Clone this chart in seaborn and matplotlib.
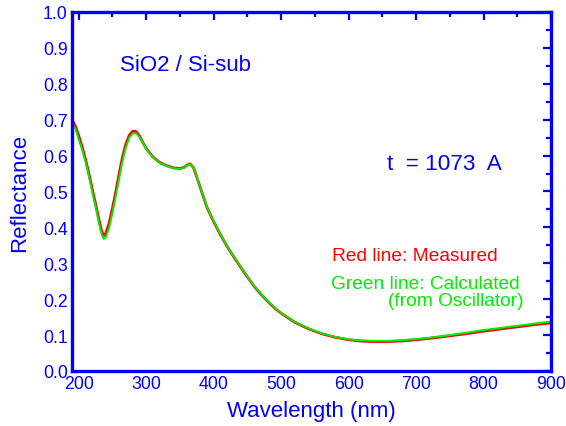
import matplotlib
matplotlib.use("Agg")
import matplotlib.pyplot as plt
from matplotlib.ticker import MultipleLocator
import numpy as np
import pandas as pd
import seaborn as sns

wavelength = [190, 195, 200, 205, 210, 215, 220, 225, 230, 234, 237, 240, 245, 250,
              255, 260, 265, 270, 275, 280, 285, 290, 295, 300, 310, 320, 330, 340,
              350, 356, 361, 365, 370, 375, 380, 390, 400, 410, 420, 430, 440, 450,
              460, 470, 480, 490, 500, 520, 540, 560, 580, 600, 620, 640, 660, 680,
              700, 725, 750, 775, 800, 825, 850, 875, 900]

measured = [0.700, 0.682, 0.655, 0.625, 0.590, 0.550, 0.507, 0.465, 0.421, 0.389,
            0.377, 0.383, 0.412, 0.454, 0.500, 0.551, 0.597, 0.633, 0.657, 0.668,
            0.667, 0.655, 0.637, 0.620, 0.596, 0.581, 0.572, 0.566, 0.564, 0.567,
            0.574, 0.577, 0.567, 0.540, 0.512, 0.456, 0.416, 0.380, 0.347, 0.317,
            0.289, 0.262, 0.236, 0.214, 0.194, 0.176, 0.161, 0.136, 0.118, 0.104,
            0.094, 0.087, 0.083, 0.082, 0.082, 0.084, 0.087, 0.092, 0.098, 0.104,
            0.111, 0.117, 0.123, 0.129, 0.134]

calculated = [0.688, 0.675, 0.645, 0.617, 0.583, 0.544, 0.500, 0.457, 0.412, 0.380,
              0.368, 0.372, 0.399, 0.440, 0.488, 0.538, 0.586, 0.624, 0.650, 0.662,
              0.662, 0.652, 0.636, 0.619, 0.595, 0.580, 0.571, 0.565, 0.563, 0.566,
              0.573, 0.576, 0.567, 0.541, 0.513, 0.457, 0.417, 0.381, 0.348, 0.318,
              0.290, 0.263, 0.237, 0.215, 0.195, 0.177, 0.162, 0.137, 0.119, 0.105,
              0.095, 0.088, 0.085, 0.084, 0.084, 0.086, 0.089, 0.094, 0.100, 0.107,
              0.114, 0.120, 0.126, 0.132, 0.138]

df = pd.DataFrame({"Wavelength": wavelength, "Measured": measured, "Calculated": calculated})

sns.set_theme(style="white")
plt.rcParams['font.family'] = ['Liberation Sans', 'DejaVu Sans']

BLUE = "#0000ff"
RED = "#ff0000"
GREEN = "#00ee00"

fig = plt.figure(figsize=(5.66, 4.27), dpi=100)
ax = fig.add_axes([72/566, 1-372/427, (551-72)/566, (372-13)/427])

sns.lineplot(data=df, x="Wavelength", y="Measured", ax=ax, color=RED, lw=2.0)
sns.lineplot(data=df, x="Wavelength", y="Calculated", ax=ax, color=GREEN, lw=1.4)

ax.set_xlim(190, 900)
ax.set_ylim(0.0, 1.0)
ax.xaxis.set_major_locator(MultipleLocator(100))
ax.xaxis.set_minor_locator(MultipleLocator(50))
ax.yaxis.set_major_locator(MultipleLocator(0.1))
ax.yaxis.set_minor_locator(MultipleLocator(0.05))
ax.yaxis.set_major_formatter(matplotlib.ticker.FormatStrFormatter('%.1f'))

for s in ax.spines.values():
    s.set_color(BLUE)
    s.set_linewidth(2.4)

ax.tick_params(which='both', direction='in', top=True, right=True, color=BLUE,
               labelcolor=BLUE, width=1.6, labelsize=12.8, pad=3)
ax.tick_params(which='major', length=6)
ax.tick_params(which='minor', length=3.5)
ax.tick_params(axis='x', which='both', top=True, labeltop=False)

ax.set_xlabel("Wavelength (nm)", color=BLUE, fontsize=16, labelpad=6)
ax.set_ylabel("Reflectance", color=BLUE, fontsize=16, labelpad=9)

ax.text(0.100, 0.855, "SiO2 / Si-sub", transform=ax.transAxes, color=BLUE,
        fontsize=16, ha='left', va='center')
ax.text(0.658, 0.577, "t  = 1073  A", transform=ax.transAxes, color=BLUE,
        fontsize=16.2, ha='left', va='center')
ax.text(0.543, 0.323, "Red line: Measured", transform=ax.transAxes, color=RED,
        fontsize=13.8, ha='left', va='center')
ax.text(0.541, 0.245, "Green line: Calculated", transform=ax.transAxes, color=GREEN,
        fontsize=13.8, ha='left', va='center')
ax.text(0.942, 0.195, "(from Oscillator)", transform=ax.transAxes, color=GREEN,
        fontsize=13.8, ha='right', va='center')

fig.savefig("out.png", dpi=100)
